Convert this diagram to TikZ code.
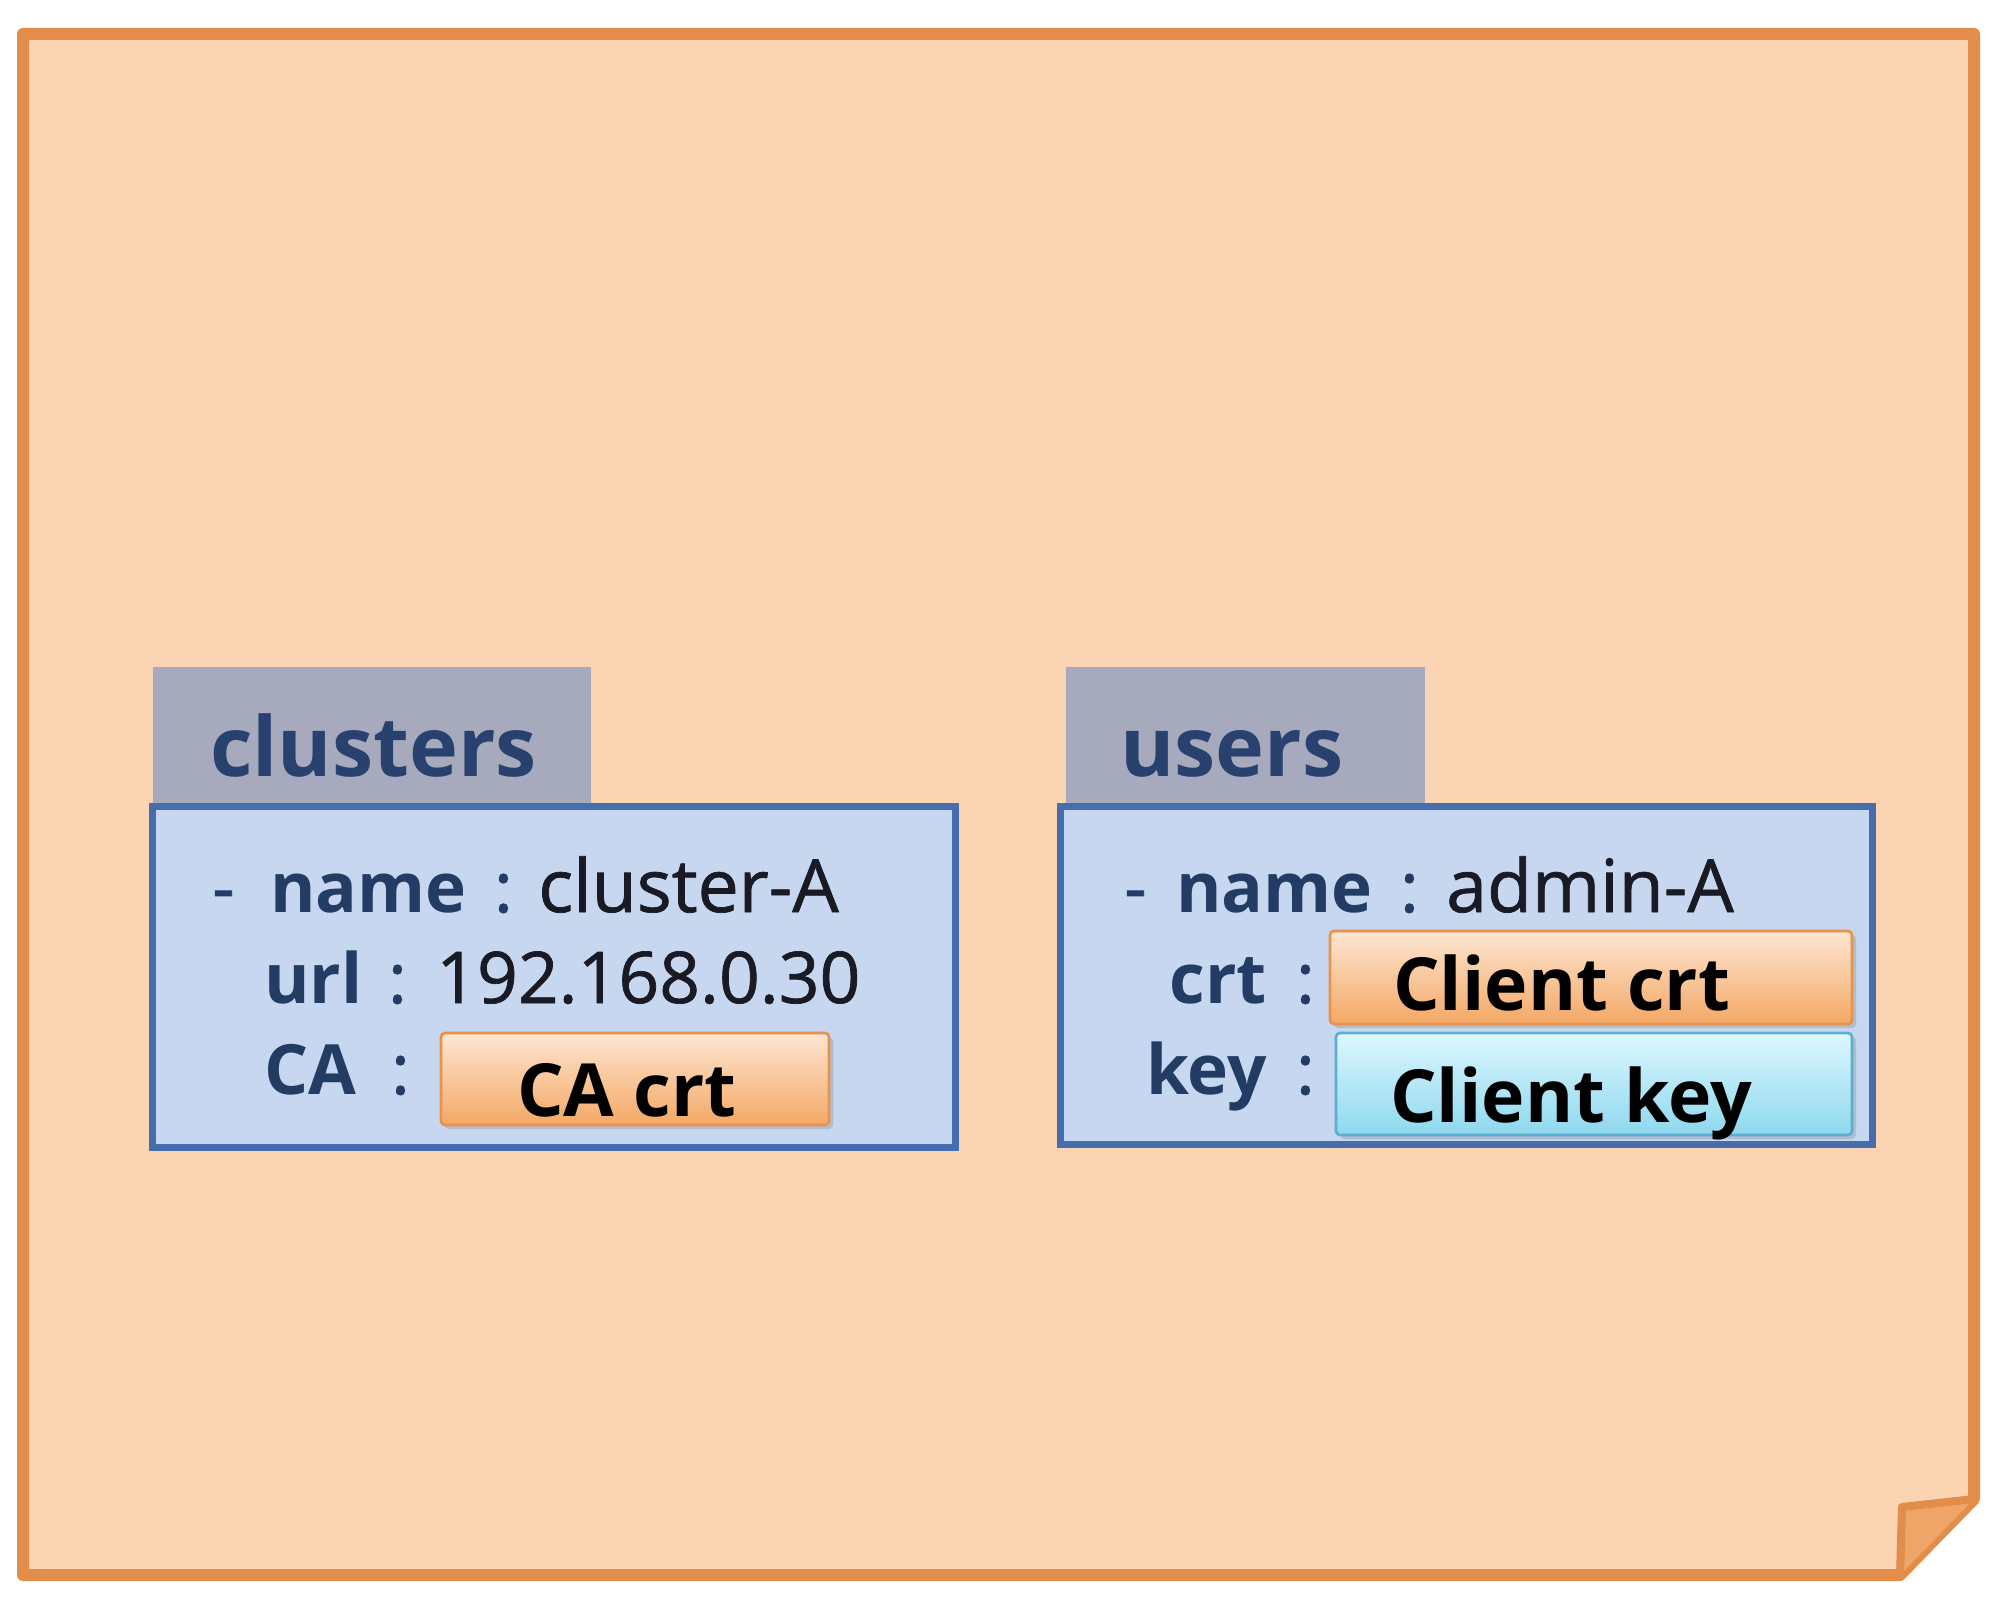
\documentclass[tikz,border=0pt]{standalone}
\usepackage{fontspec}
\setmainfont{Open Sans}
\usetikzlibrary{shadows}
\definecolor{notefill}{HTML}{FBD4B4}
\definecolor{notebord}{HTML}{E28E4A}
\definecolor{flapfill}{HTML}{EFA567}
\definecolor{tabfill}{HTML}{A6AABC}
\definecolor{titlecol}{HTML}{28416E}
\definecolor{boxfill}{HTML}{C7D7F0}
\definecolor{boxbord}{HTML}{466EAF}
\definecolor{keycol}{HTML}{233C64}
\definecolor{valcol}{HTML}{1A1A24}
\definecolor{crttop}{HTML}{FDE6D2}
\definecolor{crtbot}{HTML}{F4A865}
\definecolor{crtbord}{HTML}{E8924A}
\definecolor{keytop}{HTML}{DDF7FF}
\definecolor{keybot}{HTML}{8ED8EE}
\definecolor{keybord}{HTML}{5AAFD0}
\begin{document}
\begin{tikzpicture}[x=0.75pt,y=-0.75pt,
  tab/.style={fill=tabfill, draw=none, inner sep=0pt},
  panel/.style={fill=boxfill, draw=boxbord, line width=5.25pt, inner sep=0pt},
  title/.style={inner sep=0pt, text=titlecol, font=\fontsize{62}{70}\selectfont\bfseries},
  keylab/.style={inner sep=0pt, text=keycol, font=\fontsize{52}{60}\selectfont\bfseries},
  dashlab/.style={inner sep=0pt, text=keycol, font=\fontsize{52}{60}\selectfont\addfontfeatures{FakeBold=1}},
  colon/.style={inner sep=0pt, text=keycol, font=\fontsize{52}{60}\selectfont\addfontfeatures{FakeBold=1.5}},
  val/.style={inner sep=0pt, text=valcol, font=\fontsize{55}{62}\selectfont\addfontfeatures{FakeBold=1}},
  chip/.style={inner sep=0pt, line width=2pt, rounded corners=3pt,
     drop shadow={shadow xshift=3pt, shadow yshift=-3pt, opacity=0.3}},
  crtchip/.style={chip, draw=crtbord, top color=crttop, bottom color=crtbot},
  keychip/.style={chip, draw=keybord, top color=keytop, bottom color=keybot},
  chiptext/.style={inner sep=0pt, text=black, font=\fontsize{55}{62}\selectfont\bfseries}
]
\useasboundingbox (0,0) rectangle (2000,1605);
\fill[white] (0,0) rectangle (2000,1605);
% sticky note
\draw[notebord, line width=9pt, fill=notefill, line join=round]
  (23,34) -- (1974,34) -- (1974,1499) -- (1900,1575) -- (23,1575) -- cycle;
\draw[notebord, line width=6pt, fill=flapfill, line join=round]
  (1974,1499) -- (1902,1507) -- (1900,1575);
% clusters
\node[tab, minimum width=328.5pt, minimum height=104.25pt] (ctab) at (372,736.5) {};
\node[title, anchor=base west] (ctitle) at (210,776) {clusters};
\node[panel, minimum width=602.25pt, minimum height=255.75pt] (cbox) at (553.5,976.5) {};
\node[dashlab, anchor=base west] (cdash) at (212,912) {-};
\node[keylab, anchor=base west] (cnamek) at (270,912) {name};
\node[colon, anchor=base west] (cnamec) at (494,912) {:};
\node[val, anchor=base west] (cnamev) at (538,912) {cluster-A};
\node[keylab, anchor=base west] (curlk) at (264,1003) {url};
\node[colon, anchor=base west] (curlc) at (388,1003) {:};
\node[val, anchor=base west, font=\fontsize{53.5}{60}\selectfont\addfontfeatures{FakeBold=1}] (curlv) at (436,1003) {192.168.0.30};
\node[keylab, anchor=base west] (ccak) at (264,1094) {CA};
\node[colon, anchor=base west] (ccac) at (391,1094) {:};
\node[crtchip, minimum width=291pt, minimum height=69pt] (cacrt) at (635,1079) {};
\node[chiptext, anchor=base west] (cacrtt) at (517,1116) {CA crt};
% users
\node[tab, minimum width=269.25pt, minimum height=104.25pt] (utab) at (1245.5,736.5) {};
\node[title, anchor=base west] (utitle) at (1120,776) {users};
\node[panel, minimum width=609pt, minimum height=253.5pt] (ubox) at (1466,975) {};
\node[dashlab, anchor=base west] (udash) at (1124,912) {-};
\node[keylab, anchor=base west] (unamek) at (1176,912) {name};
\node[colon, anchor=base west] (unamec) at (1400,912) {:};
\node[val, anchor=base west] (unamev) at (1446,912) {admin-A};
\node[keylab, anchor=base east] (ucrtk) at (1267,1003) {crt};
\node[colon, anchor=base west] (ucrtc) at (1296,1003) {:};
\node[keylab, anchor=base east] (ukeyk) at (1267,1094) {key};
\node[colon, anchor=base west] (ukeyc) at (1296,1094) {:};
\node[keychip, minimum width=387pt, minimum height=76.5pt] (ckey) at (1594,1084) {};
\node[crtchip, minimum width=391.5pt, minimum height=69.75pt] (ccrt) at (1591,977.5) {};
\node[chiptext, anchor=base west] (ccrtt) at (1393,1010) {Client crt};
\node[chiptext, anchor=base west] (ckeyt) at (1390,1122) {Client key};
\end{tikzpicture}
\end{document}
